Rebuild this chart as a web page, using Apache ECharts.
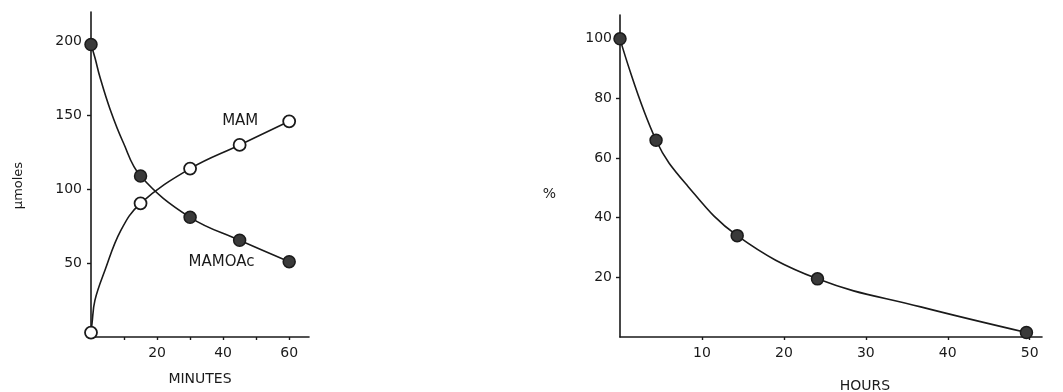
<!DOCTYPE html>
<html>
<head>
<meta charset="utf-8">
<script src="https://cdn.jsdelivr.net/npm/echarts@6/dist/echarts.min.js"></script>
<style>
html,body{margin:0;padding:0;background:#fff;}
#c{width:1063px;height:392px;}
</style>
</head>
<body>
<div id="c"></div>
<script>
// ---- Left panel (µmoles vs minutes) ----
var minutes = [0, 15, 30, 45, 60];
var mamoacPoints = [198, 109, 81, 65.5, 51];
var mamPoints = [3, 90.5, 114, 130, 146];
// drawn curves
var mamoacCurveX = [0, 1.2, 2.7, 5.8, 9.7, 15, 30, 45, 60];
var mamoacCurveY = [198, 189, 176, 154, 132, 109, 81, 65.5, 51];
var mamCurveX = [0, 0.3, 1.2, 4.2, 9, 15, 30, 45, 60];
var mamCurveY = [3, 9, 25, 45, 72, 90.5, 114, 130, 146];
var leftXTicks = [10, 20, 30, 40, 50, 60];
var leftXLabels = [20, 40, 60];
var leftYTicks = [50, 100, 150, 200];

// ---- Right panel (% vs hours) ----
var hours = [0, 4.4, 14.3, 24.1, 49.6];
var percentPoints = [100, 66, 34, 19.5, 1.5];
var pctCurveX = [0, 4.4, 8.3, 14.3, 24.1, 36.7, 49.6];
var pctCurveY = [100, 66, 50.5, 34, 19.5, 10.1, 1.5];
var rightXTicks = [10, 20, 30, 40, 50];
var rightYTicks = [20, 40, 60, 80, 100];

function pairs(xs, ys) { return xs.map(function (x, i) { return [x, ys[i]]; }); }

var FONT = 'DejaVu Sans';
var INK = '#1a1a1a';
var axisLine = { show: true, onZero: false, lineStyle: { color: INK, width: 1.6 } };
var tick = function (vals, len) { return { show: true, customValues: vals, length: len, lineStyle: { color: INK, width: 1.4 } }; };
var lab = function (vals, margin) { return { show: true, customValues: vals, margin: margin, color: INK, fontFamily: FONT, fontSize: 14 }; };

var chart = echarts.init(document.getElementById('c'), null, { renderer: 'canvas' });

var lastIdx = minutes.length - 1;
var curveStyle = { color: INK, width: 1.6 };

chart.setOption({
  animation: false,
  backgroundColor: '#fff',
  grid: [
    { left: 91, top: 12, width: 218, height: 325, containLabel: false, outerBoundsMode: 'none' },
    { left: 620, top: 15, width: 422, height: 322, containLabel: false, outerBoundsMode: 'none' }
  ],
  xAxis: [
    {
      gridIndex: 0, type: 'value', min: 0, max: 66,
      axisLine: axisLine, axisTick: tick(leftXTicks, 3), axisLabel: lab(leftXLabels, 9),
      splitLine: { show: false },
      name: 'MINUTES', nameLocation: 'middle', nameGap: 35,
      nameTextStyle: { color: INK, fontFamily: FONT, fontSize: 14 }
    },
    {
      gridIndex: 1, type: 'value', min: 0, max: 51.5,
      axisLine: axisLine, axisTick: tick(rightXTicks, 3), axisLabel: lab(rightXTicks, 9),
      splitLine: { show: false },
      name: 'HOURS', nameLocation: 'middle', nameGap: 42,
      nameTextStyle: { color: INK, fontFamily: FONT, fontSize: 14, padding: [0, 0, 0, 68] }
    }
  ],
  yAxis: [
    {
      gridIndex: 0, type: 'value', min: 0, max: 220,
      axisLine: axisLine, axisTick: tick(leftYTicks, 4), axisLabel: lab(leftYTicks, 9),
      splitLine: { show: false },
      name: 'μmoles', nameLocation: 'middle', nameGap: 66, nameRotate: 90,
      nameTextStyle: { color: INK, fontFamily: FONT, fontSize: 13, padding: [0, 22, 0, 0] }
    },
    {
      gridIndex: 1, type: 'value', min: 0, max: 108,
      axisLine: axisLine, axisTick: tick(rightYTicks, 4), axisLabel: lab(rightYTicks, 8),
      splitLine: { show: false },
      name: '%', nameLocation: 'middle', nameGap: 64, nameRotate: 0,
      nameTextStyle: { color: INK, fontFamily: FONT, fontSize: 14, verticalAlign: 'top', lineHeight: 36 }
    }
  ],
  series: [
    {
      type: 'line', xAxisIndex: 0, yAxisIndex: 0, data: pairs(mamoacCurveX, mamoacCurveY),
      smooth: 0.4, showSymbol: false, symbol: 'none',
      lineStyle: curveStyle, z: 2
    },
    {
      type: 'line', xAxisIndex: 0, yAxisIndex: 0, data: pairs(mamCurveX, mamCurveY),
      smooth: 0.4, showSymbol: false, symbol: 'none',
      lineStyle: curveStyle, z: 2
    },
    {
      name: 'MAMOAc', type: 'scatter', xAxisIndex: 0, yAxisIndex: 0, data: pairs(minutes, mamoacPoints),
      symbol: 'circle', symbolSize: 12,
      itemStyle: { color: '#3a3a3a', borderColor: INK, borderWidth: 1.5, opacity: 1 },
      label: {
        show: true, position: 'left', distance: 28, color: INK, fontFamily: FONT, fontSize: 15,
        formatter: function (p) { return p.dataIndex === lastIdx ? 'MAMOAc' : ''; }
      },
      z: 5
    },
    {
      name: 'MAM', type: 'scatter', xAxisIndex: 0, yAxisIndex: 0, data: pairs(minutes, mamPoints),
      symbol: 'circle', symbolSize: 12,
      itemStyle: { color: '#fff', borderColor: INK, borderWidth: 1.8, opacity: 1 },
      label: {
        show: true, position: 'left', distance: 24, color: INK, fontFamily: FONT, fontSize: 15,
        formatter: function (p) { return p.dataIndex === lastIdx ? 'MAM' : ''; }
      },
      z: 5
    },
    {
      type: 'line', xAxisIndex: 1, yAxisIndex: 1, data: pairs(pctCurveX, pctCurveY),
      smooth: 0.4, showSymbol: false, symbol: 'none',
      lineStyle: curveStyle, z: 2
    },
    {
      name: '%', type: 'scatter', xAxisIndex: 1, yAxisIndex: 1, data: pairs(hours, percentPoints),
      symbol: 'circle', symbolSize: 12,
      itemStyle: { color: '#3a3a3a', borderColor: INK, borderWidth: 1.5, opacity: 1 },
      z: 5
    }
  ]
});
</script>
</body>
</html>
